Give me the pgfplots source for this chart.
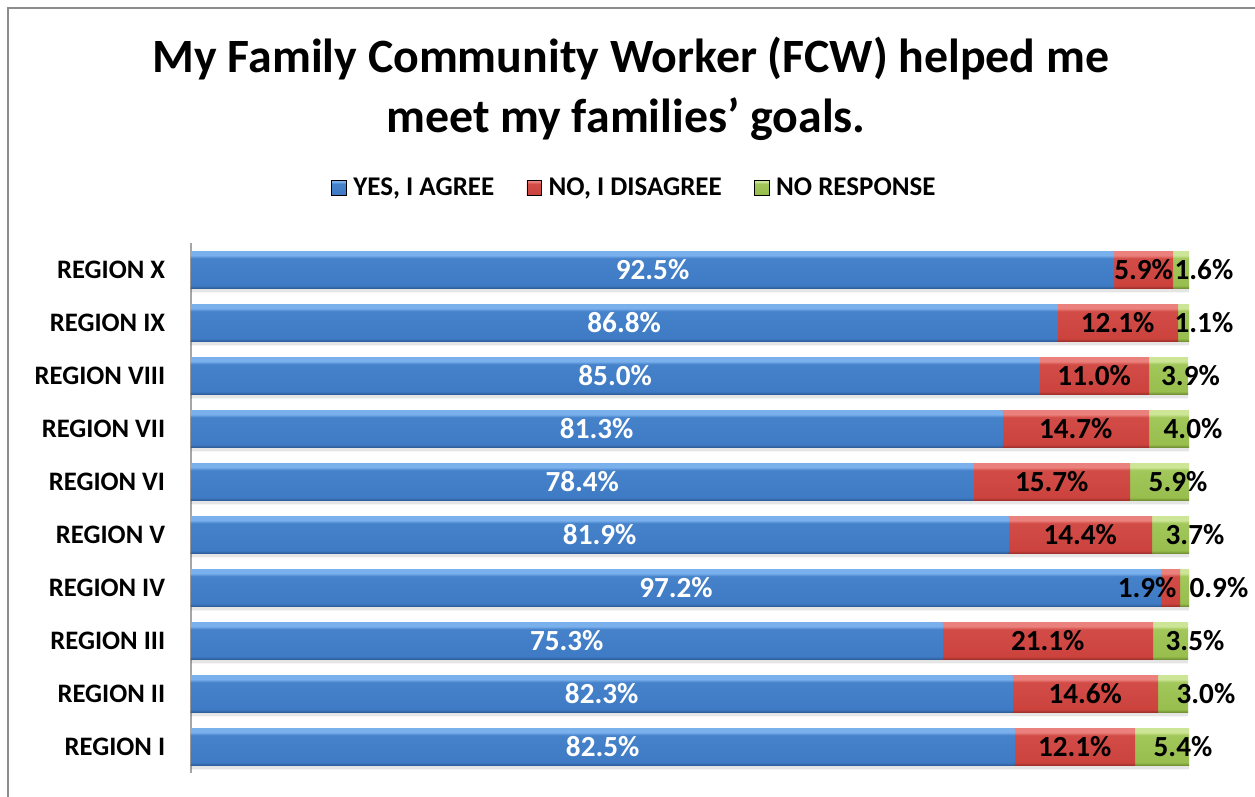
\documentclass[border=0pt]{standalone}
\usepackage{pgfplots}
\pgfplotsset{compat=1.18}
\usepackage{pgfplotstable}
\usepackage{fontspec}
\setmainfont{Carlito}

\definecolor{bmain}{HTML}{3F7BC4}
\definecolor{bmain2}{HTML}{4582CA}
\definecolor{blight}{HTML}{7AB0EC}
\definecolor{bdark}{HTML}{2D5C98}
\definecolor{rmain}{HTML}{CC433E}
\definecolor{rmain2}{HTML}{D24C47}
\definecolor{rlight}{HTML}{EA817C}
\definecolor{rdark}{HTML}{9E2F2B}
\definecolor{gmain}{HTML}{98BE4E}
\definecolor{gmain2}{HTML}{A2C75A}
\definecolor{glight}{HTML}{CDE597}
\definecolor{gdark}{HTML}{6F8E33}
\definecolor{axisgray}{HTML}{A6A6A6}
\definecolor{framegray}{HTML}{8C8C8C}

\pgfdeclareverticalshading{bluebar}{100bp}{color(0bp)=(bdark); color(25bp)=(bdark); color(29bp)=(bmain); color(66bp)=(bmain2); color(70bp)=(blight); color(75bp)=(blight); color(100bp)=(blight)}
\pgfdeclareverticalshading{redbar}{100bp}{color(0bp)=(rdark); color(25bp)=(rdark); color(29bp)=(rmain); color(66bp)=(rmain2); color(70bp)=(rlight); color(75bp)=(rlight); color(100bp)=(rlight)}
\pgfdeclareverticalshading{greenbar}{100bp}{color(0bp)=(gdark); color(25bp)=(gdark); color(29bp)=(gmain); color(66bp)=(gmain2); color(70bp)=(glight); color(75bp)=(glight); color(100bp)=(glight)}

\pgfplotstableread{
y yes no nr nx rx
0 82.5 12.1 5.4 88.55 99.4
1 82.3 14.6 3.0 89.60 101.7
2 75.3 21.1 3.5 85.85 100.6
3 97.2 1.9 0.9 95.80 103.0
4 81.9 14.4 3.7 89.10 100.6
5 78.4 15.7 5.9 86.25 98.9
6 81.3 14.7 4.0 88.65 100.4
7 85.0 11.0 3.9 90.50 100.15
8 86.8 12.1 1.1 92.85 101.5
9 92.5 5.9 1.6 95.45 101.5
}\datatable

\newcommand{\lblfont}{\fontsize{17.5}{21}\selectfont\bfseries}

\begin{document}
\begin{tikzpicture}
\path[use as bounding box] (0,0) rectangle (753pt,478.2pt);
\draw[framegray, line width=1.2pt] (4.5pt,0) -- (4.5pt,473.4pt) -- (753pt,473.4pt);
\node[anchor=base, font=\fontsize{28.7}{34}\selectfont\bfseries] at (378.6pt,434.4pt) {My Family Community Worker (FCW) helped me};
\node[anchor=base, font=\fontsize{28.7}{34}\selectfont\bfseries] at (375.6pt,398.4pt) {meet my families’ goals.};
\begin{axis}[
  at={(114.6pt,14.1pt)}, anchor=south west,
  scale only axis, width=598.8pt, height=318pt,
  xmin=0, xmax=100, ymin=-0.5, ymax=9.5,
  axis x line=none, axis y line*=left,
  y axis line style={draw=axisgray, line width=0.9pt},
  ytick={0,...,9},
  yticklabels={REGION I,REGION II,REGION III,REGION IV,REGION V,REGION VI,REGION VII,REGION VIII,REGION IX,REGION X},
  major tick length=0pt,
  yticklabel style={font=\fontsize{16}{19}\selectfont\bfseries, xshift=-12pt},
  clip=false,
  /pgf/number format/assume math mode=true,
  legend columns=-1,
  legend style={at={(0.445,1.1047)}, anchor=center, draw=none, fill=none,
    font=\fontsize{16.2}{19}\selectfont\bfseries,
    /tikz/every odd column/.append style={column sep=2pt},
    /tikz/every even column/.append style={column sep=17.4pt}},
  legend image code/.code={\path[#1] (0pt,-4.4pt) rectangle (8.8pt,4.4pt);},
  mybar/.style={forget plot, xbar, bar width=22pt, bar shift=0pt, draw=none},
]
\addlegendimage{shading=bluebar}
\addlegendentry{YES, I AGREE}
\addlegendimage{shading=redbar}
\addlegendentry{NO, I DISAGREE}
\addlegendimage{shading=greenbar}
\addlegendentry{NO RESPONSE}
% shadow
\addplot[mybar, bar shift=-2.5pt, fill=black, fill opacity=0.10]
  table[x expr=\thisrow{yes}+\thisrow{no}+\thisrow{nr}, y=y]{\datatable};
% bars drawn one by one (so each gets its own bevel shading) as overlays: total, yes+no, yes
\pgfplotsinvokeforeach{0,...,9}{
  \addplot[mybar, shading=greenbar, restrict y to domain=#1:#1]
    table[x expr=\thisrow{yes}+\thisrow{no}+\thisrow{nr}, y=y]{\datatable};
  \addplot[mybar, shading=redbar, restrict y to domain=#1:#1]
    table[x expr=\thisrow{yes}+\thisrow{no}, y=y]{\datatable};
  \addplot[mybar, shading=bluebar, restrict y to domain=#1:#1]
    table[x=yes, y=y]{\datatable};
}
% labels
\addplot[forget plot, draw=none, mark=none, point meta=explicit,
  nodes near coords={\pgfmathprintnumber[fixed,fixed zerofill,precision=1]{\pgfplotspointmeta}\%},
  every node near coord/.append style={anchor=center, font=\lblfont, text=white, inner sep=0pt}]
  table[x expr=\thisrow{yes}/2, y=y, meta=yes]{\datatable};
\addplot[forget plot, draw=none, mark=none, point meta=explicit,
  nodes near coords={\pgfmathprintnumber[fixed,fixed zerofill,precision=1]{\pgfplotspointmeta}\%},
  every node near coord/.append style={anchor=center, font=\lblfont, text=black, inner sep=0pt}]
  table[x=nx, y=y, meta=no]{\datatable};
\addplot[forget plot, draw=none, mark=none, point meta=explicit,
  nodes near coords={\pgfmathprintnumber[fixed,fixed zerofill,precision=1]{\pgfplotspointmeta}\%},
  every node near coord/.append style={anchor=center, font=\lblfont, text=black, inner sep=0pt}]
  table[x=rx, y=y, meta=nr]{\datatable};
\end{axis}
\end{tikzpicture}
\end{document}
